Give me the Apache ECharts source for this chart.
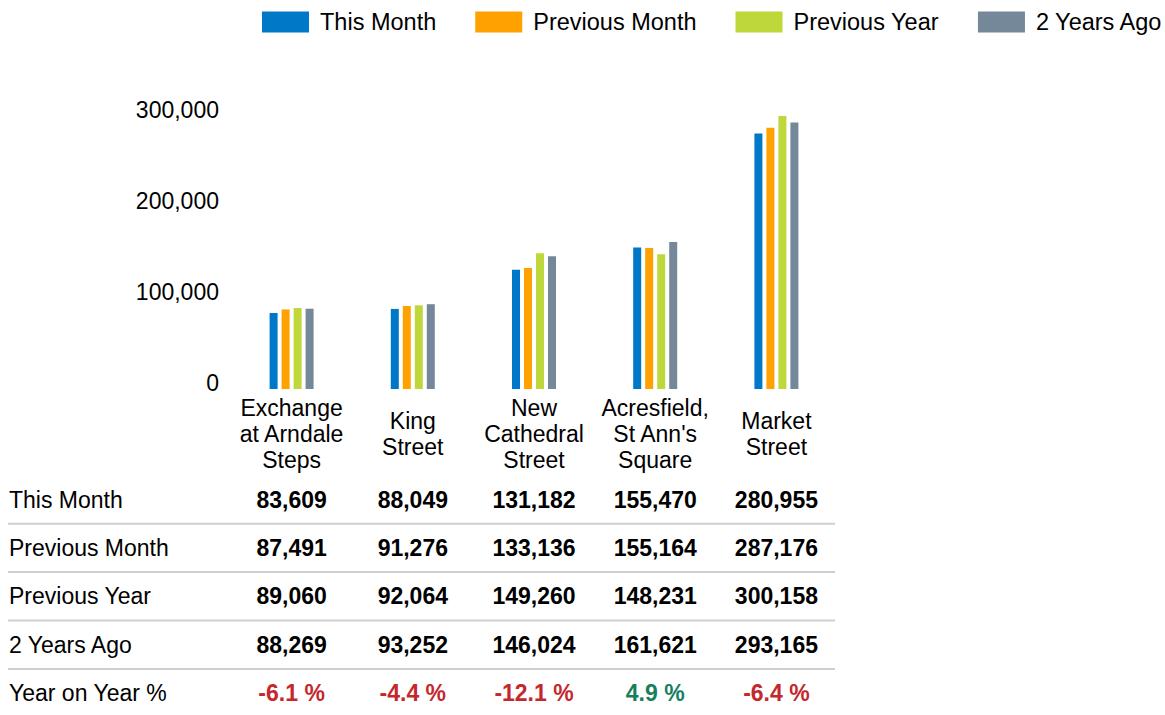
<!DOCTYPE html>
<html>
<head>
<meta charset="utf-8">
<title>Footfall by location</title>
<script src="https://cdn.jsdelivr.net/npm/echarts@6/dist/echarts.min.js"></script>
<style>
  html, body { margin: 0; padding: 0; background: #fff; }
  #main { width: 1165px; height: 715px; }
</style>
</head>
<body>
<div id="main"></div>
<script>
// data
var categories = ['Exchange\nat Arndale\nSteps', 'King\nStreet', 'New\nCathedral\nStreet', 'Acresfield,\nSt Ann\'s\nSquare', 'Market\nStreet'];
var seriesNames = ['This Month', 'Previous Month', 'Previous Year', '2 Years Ago'];
var thisMonth     = [83609, 88049, 131182, 155470, 280955];
var previousMonth = [87491, 91276, 133136, 155164, 287176];
var previousYear  = [89060, 92064, 149260, 148231, 300158];
var twoYearsAgo   = [88269, 93252, 146024, 161621, 293165];
var yearOnYear    = [-6.1, -4.4, -12.1, 4.9, -6.4];
var yoyLabel      = 'Year on Year %';

var colors = ['#0078c8', '#ffa100', '#bed73a', '#758899'];
var font = '"Liberation Sans", Arial, sans-serif';

var chart = echarts.init(document.getElementById('main'), null, { renderer: 'svg' });

function fmt(v) {
    return v.toLocaleString('en-US');
}

var allSeries = [thisMonth, previousMonth, previousYear, twoYearsAgo];

var opt = {
    animation: false,
    color: colors,
    textStyle: { fontFamily: font },
    legend: {
        left: 262,
        top: 10,
        width: 903,
        padding: 0,
        icon: 'rect',
        itemWidth: 47,
        itemHeight: 21,
        itemGap: 39,
        textStyle: { fontSize: 23.5, color: '#000', fontFamily: font, padding: [0, 0, 0, 6] },
        data: seriesNames
    },
    grid: {
        left: 231,
        right: 328,
        top: 98,
        bottom: 326
    },
    xAxis: {
        type: 'category',
        data: categories,
        axisLine: { show: false },
        axisTick: { show: false },
        axisLabel: {
            interval: 0,
            margin: 45,
            verticalAlign: 'middle',
            lineHeight: 26,
            fontSize: 23,
            color: '#000',
            fontFamily: font
        }
    },
    yAxis: {
        type: 'value',
        min: 0,
        max: 320000,
        interval: 100000,
        splitLine: { show: false },
        axisLine: { show: false },
        axisTick: { show: false },
        axisLabel: {
            margin: 12,
            showMaxLabel: false,
            fontSize: 23,
            color: '#000',
            fontFamily: font,
            verticalAlign: 'bottom',
            lineHeight: 12,
            formatter: function (v) { return fmt(v); }
        }
    },
    series: seriesNames.map(function (name, i) {
        return {
            name: name,
            type: 'bar',
            barWidth: 8,
            barGap: '50%',
            data: allSeries[i]
        };
    })
};

chart.setOption(opt);

// table under the chart, columns lined up with the category axis
var rowTop = 499.5, rowStep = 48.4;
var graphics = [];
var rows = seriesNames.concat([yoyLabel]);

rows.forEach(function (label, r) {
    var y = rowTop + r * rowStep;
    graphics.push({
        type: 'text',
        x: 9,
        y: y,
        style: { text: label, fontSize: 23, fill: '#000', fontFamily: font, align: 'left', verticalAlign: 'middle' }
    });
    categories.forEach(function (c, k) {
        var x = chart.convertToPixel({ xAxisIndex: 0 }, k);
        var txt, col = '#000';
        if (r < allSeries.length) {
            txt = fmt(allSeries[r][k]);
        } else {
            var v = yearOnYear[k];
            txt = v.toFixed(1) + ' %';
            col = v < 0 ? '#c4282d' : '#157f5f';
        }
        graphics.push({
            type: 'text',
            x: x,
            y: y,
            style: {
                text: txt,
                fontSize: 23,
                fontWeight: 'bold',
                fill: col,
                fontFamily: font,
                align: 'center',
                verticalAlign: 'middle'
            }
        });
    });
    if (r < rows.length - 1) {
        graphics.push({
            type: 'line',
            shape: { x1: 8, y1: y + rowStep / 2, x2: 835, y2: y + rowStep / 2 },
            style: { stroke: '#cfcfcf', lineWidth: 2 }
        });
    }
});

chart.setOption({ graphic: graphics });
</script>
</body>
</html>
